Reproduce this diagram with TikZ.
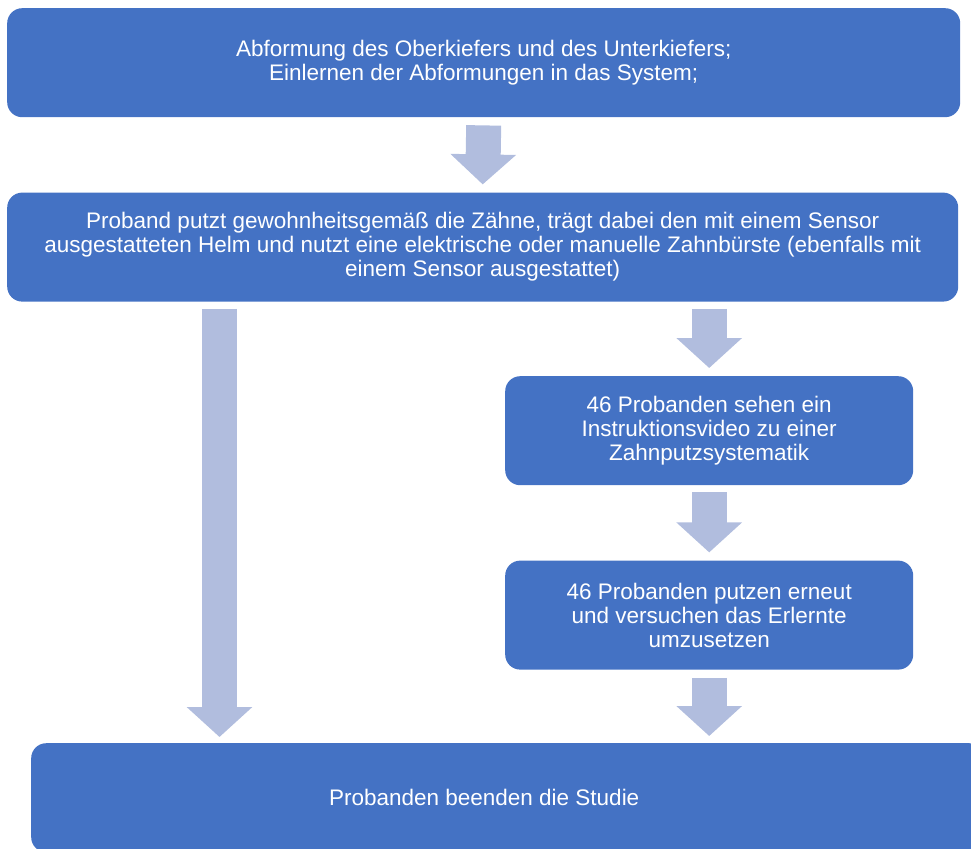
\documentclass[tikz,border=0pt]{standalone}
\usepackage{fontspec}
\setmainfont{Liberation Sans}
\usetikzlibrary{arrows.meta,positioning}
\definecolor{boxblue}{RGB}{68,114,196}
\definecolor{arrowblue}{RGB}{177,189,222}

\begin{document}
\begin{tikzpicture}[x=1pt,y=-1pt,
    boxtext/.style={text=white,font=\fontsize{22.5}{24}\selectfont},
    box/.style={boxtext,fill=boxblue,rounded corners=15pt,align=center,
      minimum height=109pt,inner sep=0pt,anchor=north west},
    flow/.style={arrowblue,line width=35pt,-{Triangle[width=64pt,length=30pt]}}]
    \useasboundingbox (0,0) rectangle (971,848);
    \clip (0,0) rectangle (971,848);
    \node[box,minimum width=953pt] (abform) at (7,8)
      {Abformung des Oberkiefers und des Unterkiefers;\\Einlernen der Abformungen in das System;};
    \node[box,minimum width=951pt,below=75pt of abform.south west,anchor=north west] (putzen)
      {Proband putzt gewohnheitsgemäß die Zähne, trägt dabei den mit einem Sensor\\
       ausgestatteten Helm und nutzt eine elektrische oder manuelle Zahnbürste (ebenfalls mit\\
       einem Sensor ausgestattet)};
    \node[box,minimum width=408pt] (video) at (505,376)
      {46 Probanden sehen ein\\Instruktionsvideo zu einer\\Zahnputzsystematik};
    \node[box,minimum width=408pt,below=75pt of video.south west,anchor=north west] (wieder)
      {46 Probanden putzen erneut\\und versuchen das Erlernte\\umzusetzen};
    \node[box,minimum width=953pt,
      label={[boxtext,xshift=-23.5pt]center:Probanden beenden die Studie}] (ende) at (31,743) {};
    \coordinate (links) at ([xshift=212.5pt]putzen.south west);
    \draw[flow] ([yshift=-8pt]abform.south) -- ([yshift=8pt]putzen.north);
    \draw[flow] ([yshift=-7pt]links) -- ([yshift=6pt]links |- ende.north);
    \draw[flow] ([yshift=-7pt]putzen.south -| video.north) -- ([yshift=8pt]video.north);
    \draw[flow] ([yshift=-7pt]video.south) -- ([yshift=8pt]wieder.north);
    \draw[flow] ([yshift=-8pt]wieder.south) -- ([yshift=7pt]wieder.south |- ende.north);
\end{tikzpicture}
\end{document}
